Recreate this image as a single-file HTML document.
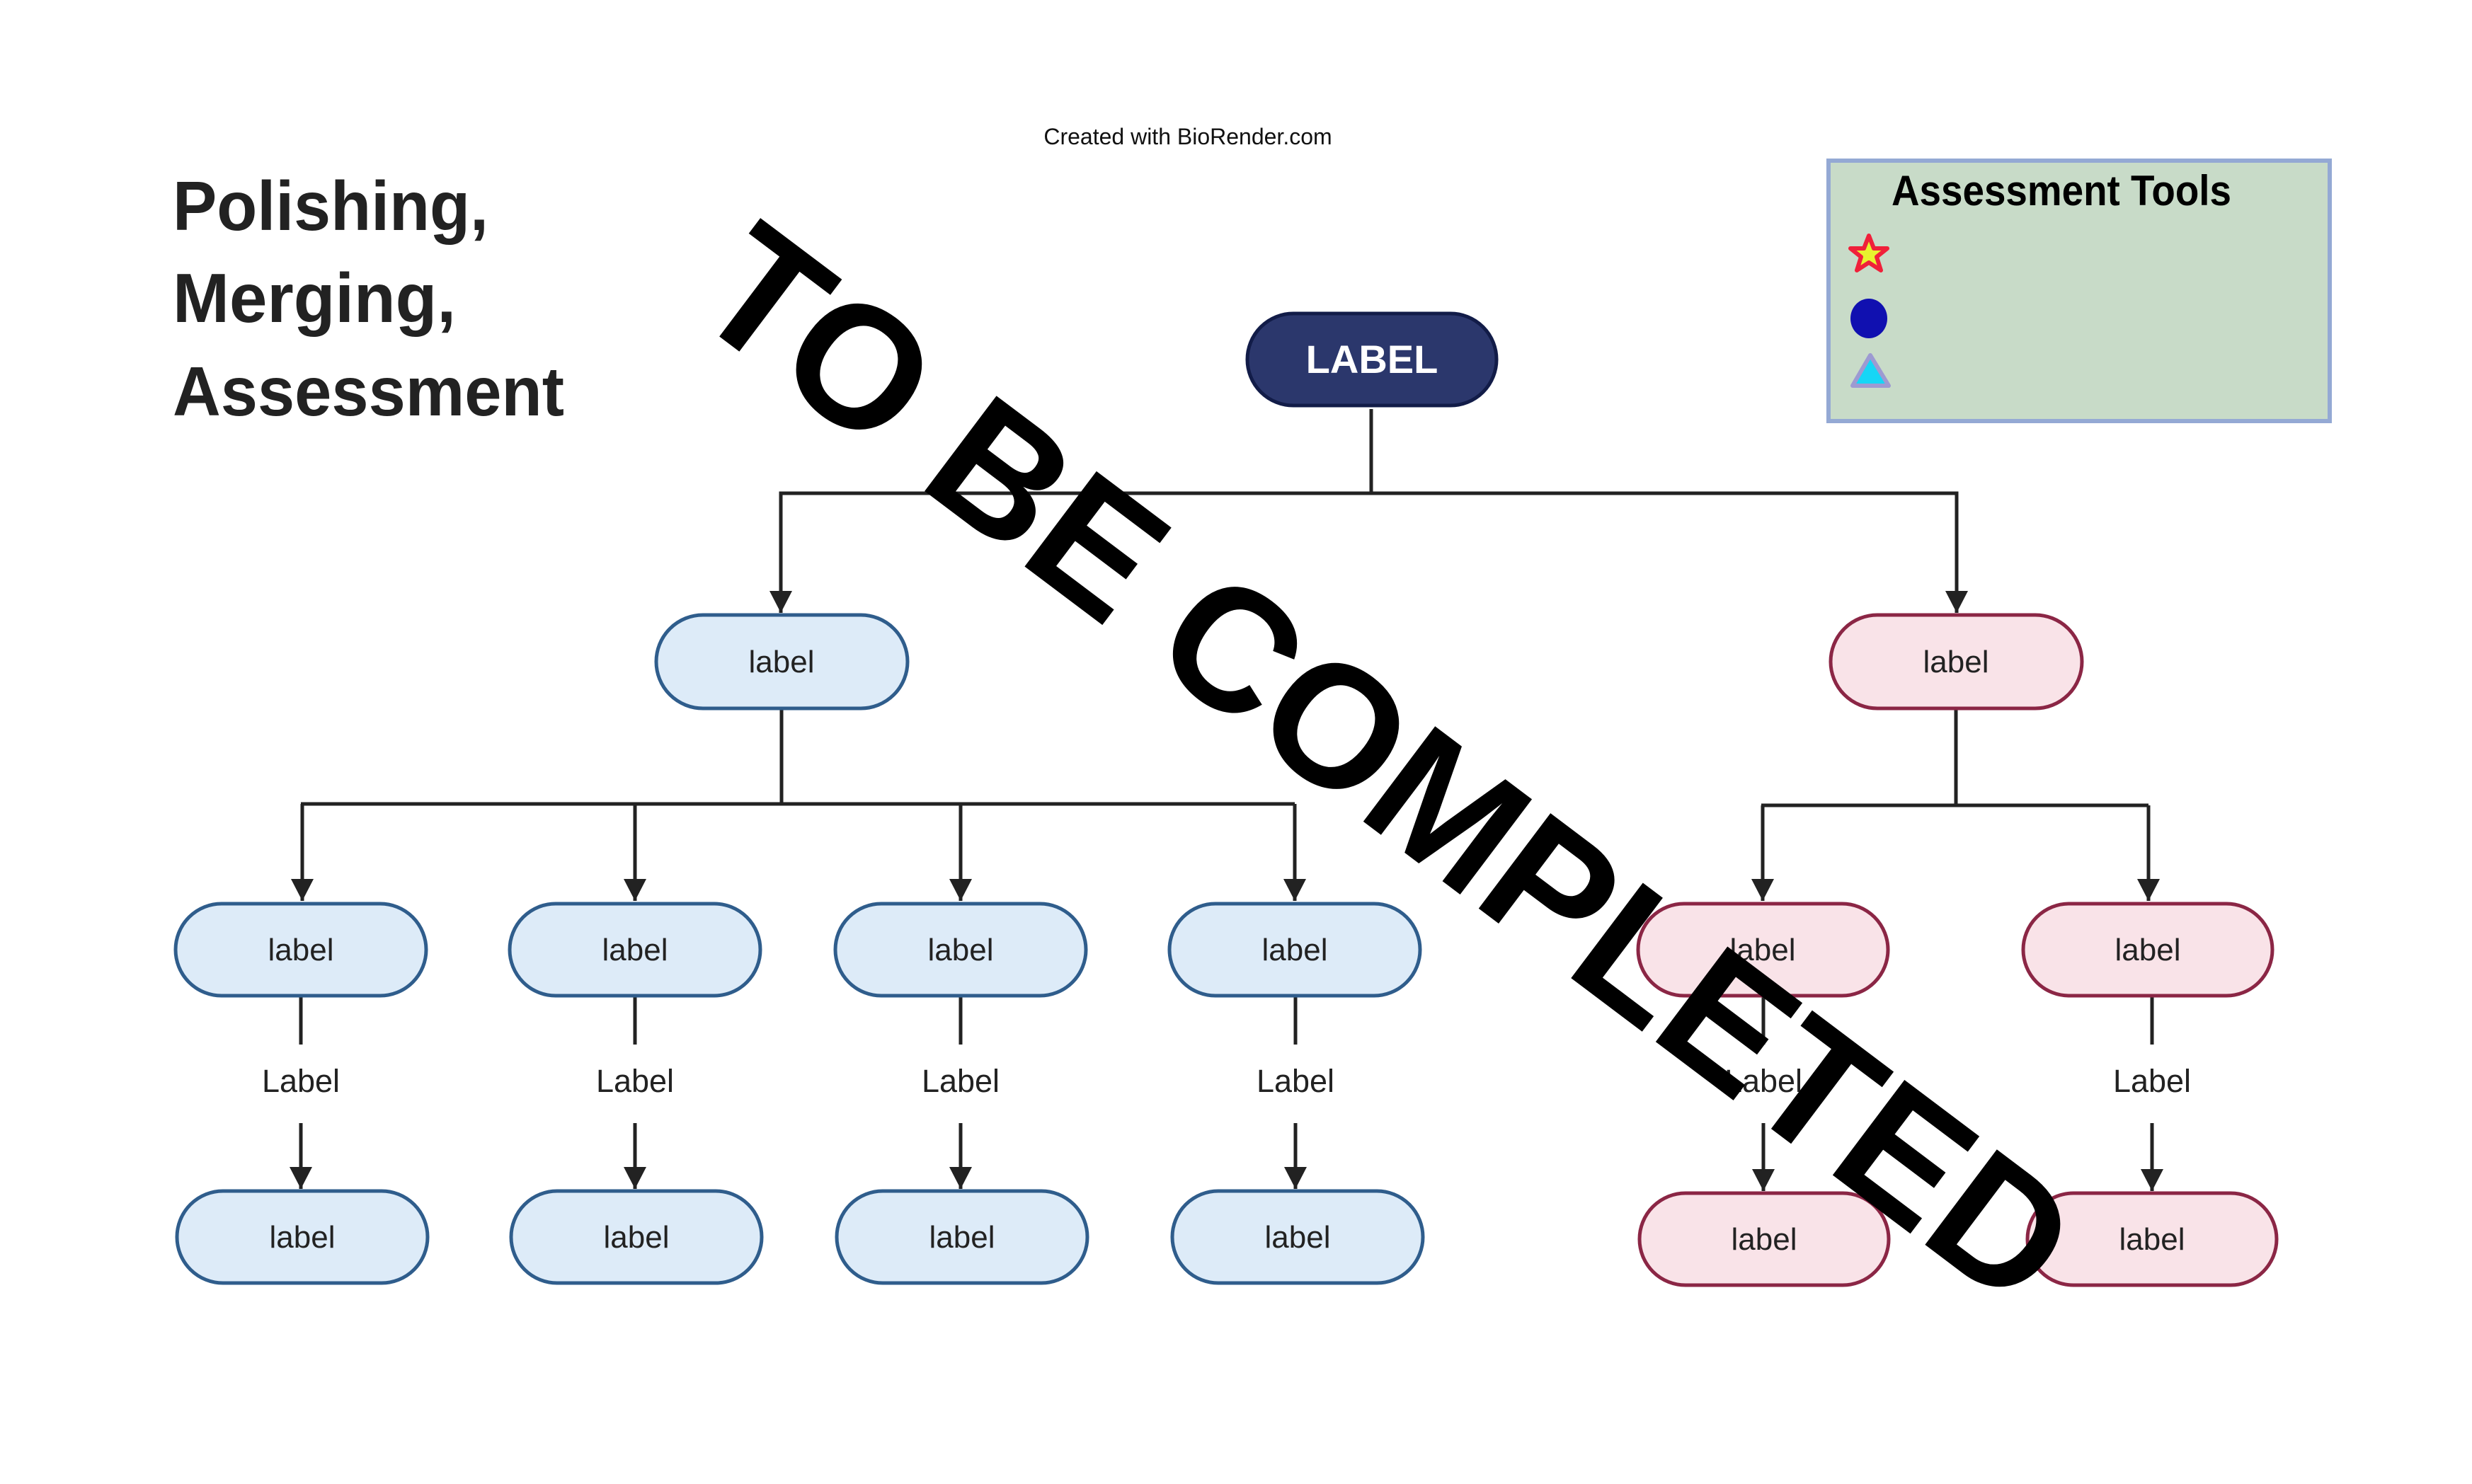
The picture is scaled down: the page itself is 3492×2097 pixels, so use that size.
<!DOCTYPE html>
<html><head><meta charset="utf-8"><style>
html,body{margin:0;padding:0;background:#fff;}
svg{display:block;}
text{font-family:"Liberation Sans",sans-serif;}
</style></head><body>
<svg width="3492" height="2097" viewBox="0 0 3492 2097" xmlns="http://www.w3.org/2000/svg">
<defs>
<marker id="a" markerWidth="34" markerHeight="34" refX="16" refY="31" orient="0" markerUnits="userSpaceOnUse">
<path d="M0,0 L32,0 L16,31 Z" fill="#222"/>
</marker>
</defs>
<rect width="3492" height="2097" fill="#fff"/>
<text x="1678" y="204" font-size="32" text-anchor="middle" fill="#111">Created with BioRender.com</text>
<g font-size="98" font-weight="bold" fill="#222">
<text x="244" y="325" textLength="446" lengthAdjust="spacingAndGlyphs">Polishing,</text>
<text x="244" y="455" textLength="400" lengthAdjust="spacingAndGlyphs">Merging,</text>
<text x="244" y="587" textLength="553" lengthAdjust="spacingAndGlyphs">Assessment</text>
</g>
<!-- legend -->
<rect x="2583" y="227" width="708" height="368" fill="#c8dbc8" stroke="#94a9d4" stroke-width="6"/>
<text x="2912" y="290" font-size="60" font-weight="bold" text-anchor="middle" fill="#000" textLength="480" lengthAdjust="spacingAndGlyphs">Assessment Tools</text>
<polygon points="2640,333 2647,351 2666,351 2651,363 2657,382 2640,371 2623,382 2629,363 2614,351 2633,351" fill="#e8f22e" stroke="#f0203a" stroke-width="6" stroke-linejoin="round"/>
<ellipse cx="2640" cy="450" rx="26" ry="28" fill="#1010b0"/>
<polygon points="2642,502 2668,545 2617,545" fill="#16d6f6" stroke="#9d9ad2" stroke-width="6" stroke-linejoin="round"/>
<!-- connectors -->
<g stroke="#222" stroke-width="5" fill="none">
<line x1="1937" y1="578" x2="1937" y2="697"/>
<polyline points="1103,834 1103,697 2764,697 2764,834" />
<line x1="1104" y1="1001" x2="1104" y2="1136"/>
<line x1="425" y1="1136" x2="1829" y2="1136"/>
<line x1="2763" y1="1001" x2="2763" y2="1138"/>
<line x1="2488" y1="1138" x2="3035" y2="1138"/>
</g>
<g stroke="#222" stroke-width="5" marker-end="url(#a)">
<line x1="1103" y1="697" x2="1103" y2="866"/>
<line x1="2764" y1="697" x2="2764" y2="866"/>
<line x1="427" y1="1136" x2="427" y2="1273"/>
<line x1="897" y1="1136" x2="897" y2="1273"/>
<line x1="1357" y1="1136" x2="1357" y2="1273"/>
<line x1="1829" y1="1136" x2="1829" y2="1273"/>
<line x1="2490" y1="1138" x2="2490" y2="1273"/>
<line x1="3035" y1="1138" x2="3035" y2="1273"/>
</g>
<g stroke="#222" stroke-width="5">
<line x1="425" y1="1407" x2="425" y2="1476"/>
<line x1="897" y1="1407" x2="897" y2="1476"/>
<line x1="1357" y1="1407" x2="1357" y2="1476"/>
<line x1="1830" y1="1407" x2="1830" y2="1476"/>
<line x1="2491" y1="1407" x2="2491" y2="1476"/>
<line x1="3040" y1="1407" x2="3040" y2="1476"/>
</g>
<g stroke="#222" stroke-width="5" marker-end="url(#a)">
<line x1="425" y1="1587" x2="425" y2="1680"/>
<line x1="897" y1="1587" x2="897" y2="1680"/>
<line x1="1357" y1="1587" x2="1357" y2="1680"/>
<line x1="1830" y1="1587" x2="1830" y2="1680"/>
<line x1="2491" y1="1587" x2="2491" y2="1683"/>
<line x1="3040" y1="1587" x2="3040" y2="1683"/>
</g>
<g font-size="45" fill="#222" text-anchor="middle">
<text x="425" y="1543">Label</text>
<text x="897" y="1543">Label</text>
<text x="1357" y="1543">Label</text>
<text x="1830" y="1543">Label</text>
<text x="2491" y="1543">Label</text>
<text x="3040" y="1543">Label</text>
</g>
<!-- nodes -->
<rect x="1762" y="443" width="352" height="130" rx="65" fill="#2b376c" stroke="#121c48" stroke-width="5"/>
<text x="1938" y="527" font-size="56" font-weight="bold" fill="#fff" text-anchor="middle">LABEL</text>
<g stroke-width="5">
<rect x="927" y="869" width="355" height="132" rx="66" fill="#ddebf8" stroke="#2f5d8c"/>
<rect x="2586" y="869" width="355" height="132" rx="66" fill="#f9e3e8" stroke="#8b2645"/>
<g fill="#ddebf8" stroke="#2f5d8c">
<rect x="248" y="1277" width="354" height="130" rx="65"/>
<rect x="720" y="1277" width="354" height="130" rx="65"/>
<rect x="1180" y="1277" width="354" height="130" rx="65"/>
<rect x="1652" y="1277" width="354" height="130" rx="65"/>
<rect x="250" y="1683" width="354" height="130" rx="65"/>
<rect x="722" y="1683" width="354" height="130" rx="65"/>
<rect x="1182" y="1683" width="354" height="130" rx="65"/>
<rect x="1656" y="1683" width="354" height="130" rx="65"/>
</g>
<g fill="#f9e3e8" stroke="#8b2645">
<rect x="2314" y="1277" width="353" height="130" rx="65"/>
<rect x="2858" y="1277" width="352" height="130" rx="65"/>
<rect x="2316" y="1686" width="352" height="130" rx="65"/>
<rect x="2864" y="1686" width="352" height="130" rx="65"/>
</g>
</g>
<g font-size="44" fill="#222" text-anchor="middle">
<text x="1104" y="950">label</text>
<text x="2763" y="950">label</text>
<text x="425" y="1357">label</text>
<text x="897" y="1357">label</text>
<text x="1357" y="1357">label</text>
<text x="1829" y="1357">label</text>
<text x="2490" y="1357">label</text>
<text x="3034" y="1357">label</text>
<text x="427" y="1763">label</text>
<text x="899" y="1763">label</text>
<text x="1359" y="1763">label</text>
<text x="1833" y="1763">label</text>
<text x="2492" y="1766">label</text>
<text x="3040" y="1766">label</text>
</g>
<!-- stamp -->
<g transform="translate(1962,1078) rotate(37)">
<text x="0" y="88" font-size="245" font-weight="bold" fill="#000" text-anchor="middle">TO BE COMPLETED</text>
</g>
</svg>
</body></html>
